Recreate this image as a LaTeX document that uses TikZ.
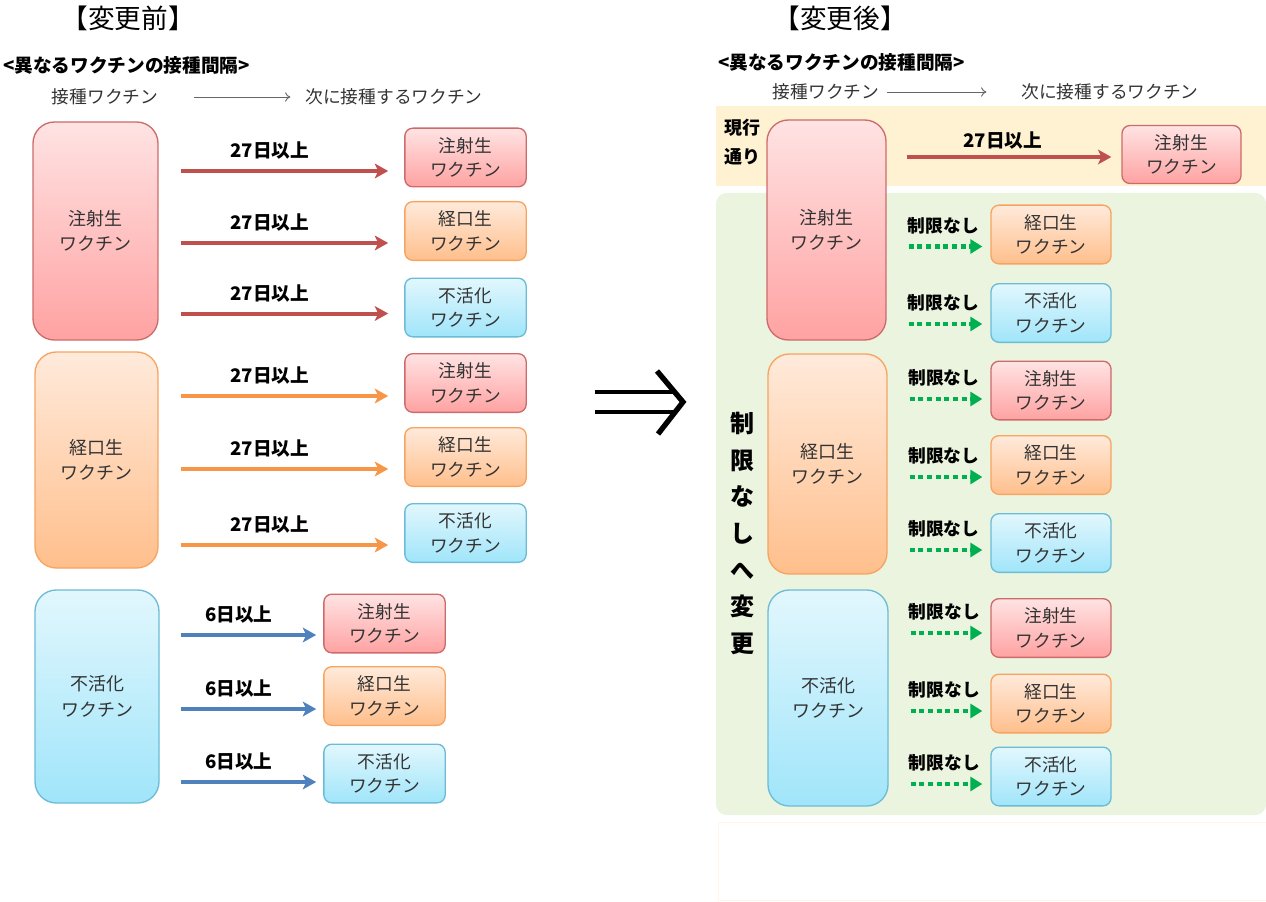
\documentclass[tikz,border=0pt]{standalone}
\usepackage{fontspec}
\setmainfont{Noto Sans CJK JP}
\usetikzlibrary{arrows.meta, calc, positioning}

\definecolor{injtop}{HTML}{FFE3E3}
\definecolor{injbot}{HTML}{FFA2A2}
\definecolor{injedge}{HTML}{CD6B6B}
\definecolor{injarrow}{HTML}{C0504D}
\definecolor{oraltop}{HTML}{FFEADB}
\definecolor{oralbot}{HTML}{FFBF8C}
\definecolor{oraledge}{HTML}{F7A461}
\definecolor{oralarrow}{HTML}{F79646}
\definecolor{inacttop}{HTML}{E2F7FD}
\definecolor{inactbot}{HTML}{A0E5FA}
\definecolor{inactedge}{HTML}{6BBCD6}
\definecolor{inactarrow}{HTML}{4F81BD}
\definecolor{keepband}{HTML}{FEF2D2}
\definecolor{freeband}{HTML}{EAF4DE}
\definecolor{freearrow}{HTML}{00B050}
\definecolor{labelgray}{HTML}{333333}

\tikzset{
  bigbox/.style={rounded corners=16pt, line width=1pt, draw=#1edge, top color=#1top, bottom color=#1bot,
    align=center, text=labelgray, font=\fontsize{13.5}{19}\selectfont, inner sep=0pt},
  smallbox/.style={rounded corners=6pt, line width=1pt, draw=#1edge, top color=#1top, bottom color=#1bot,
    align=center, text=labelgray, font=\fontsize{13.3}{18.5}\selectfont, minimum width=91pt, minimum height=44pt, inner sep=0pt},
  dayarrow/.style={line width=3pt, draw=#1arrow, -{Stealth[length=10pt, width=11pt, inset=2.5pt]}},
  freearr/.style={line width=3.7pt, draw=freearrow, dash pattern=on 3.7pt off 2.8pt, -{Triangle[length=9pt, width=10.5pt]}},
  daylbl/.style={font=\bfseries\fontsize{14}{16}\selectfont, inner sep=0pt},
  freelbl/.style={font=\bfseries\fontsize{13.3}{16}\selectfont, inner sep=0pt},
  headtxt/.style={font=\fontsize{13.3}{15}\selectfont, text=labelgray, inner sep=0pt},
  headarrow/.style={draw=black!60, line width=0.7pt, -{To[length=4pt, width=7pt]}},
  ttl/.style={font=\fontsize{20}{22}\selectfont},
}

\begin{document}
\begin{tikzpicture}[x=0.75pt, y=-0.75pt]
\useasboundingbox (0,0) rectangle (1266,902);

% bands behind the new rules
\fill[keepband] (716,106) rectangle (1266,186);
\fill[freeband, rounded corners=8pt] (716,193) rectangle (1266,815);
\draw[orange!8, line width=0.6pt] (718,822) rectangle (1266,900);

% before
\node[ttl] (ttlbefore) at (128,18) {【変更前】};
\node[anchor=west, font=\bfseries\fontsize{14}{16}\selectfont, inner sep=0pt] (hdbefore) at (3,65) {<異なるワクチンの接種間隔>};
\node[headtxt] (frombefore) at (105,97) {接種ワクチン};
\node[headtxt] (tobefore) at (394,97) {次に接種するワクチン};
\draw[headarrow, shorten <=27pt, shorten >=11pt] (frombefore) -- (tobefore);

\node[bigbox=inj, minimum width=93.75pt, minimum height=163.5pt] (lb1) at (95.5,231) {注射生\\ワクチン};
\node[bigbox=oral, minimum width=92.25pt, minimum height=162pt] (lb2) at (96.5,460) {経口生\\ワクチン};
\node[bigbox=inact, minimum width=93pt, minimum height=159.75pt] (lb3) at (97,696.5) {不活化\\ワクチン};

\foreach \n/\y/\kind/\txt/\d/\src/\col in {1/157.5/inj/注射生/13.5/lb1/inj, 2/231/oral/経口生/12/lb1/inj,
    3/307.5/inact/不活化/6/lb1/inj, 4/383/inj/注射生/13/lb2/oral, 5/457/oral/経口生/12/lb2/oral,
    6/533/inact/不活化/12/lb2/oral}{
  \node[smallbox=\kind] (ls\n) at (465.5,\y) {\txt\\ワクチン};
  \draw[dayarrow=\col] ($(\src.east |- ls\n.center)+(22,\d)$) -- ($(ls\n.west)+(-16,\d)$)
    node[daylbl, pos=.43, yshift=15pt] {27日以上};
}
\foreach \n/\y/\kind/\txt/\d in {7/623.5/inj/注射生/11.5, 8/696/oral/経口生/13, 9/773.5/inact/不活化/8.5}{
  \node[smallbox=\kind] (ls\n) at (384.5,\y) {\txt\\ワクチン};
  \draw[dayarrow=inact] ($(lb3.east |- ls\n.center)+(21,\d)$) -- ($(ls\n.west)+(-7,\d)$)
    node[daylbl, pos=.43, yshift=15.5pt] {6日以上};
}

% change mark
\draw[line width=3.6pt] (595,392) -- (674,392) (595,412) -- (674,412);
\draw[line width=4pt, miter limit=10] (657,371) -- (683,402) -- (658,434);

% after
\node[ttl] (ttlafter) at (840,18) {【変更後】};
\node[anchor=west, font=\bfseries\fontsize{14}{16}\selectfont, inner sep=0pt] (hdafter) at (718,62) {<異なるワクチンの接種間隔>};
\node[headtxt] (fromafter) at (826,92) {接種ワクチン};
\node[headtxt] (toafter) at (1110,92) {次に接種するワクチン};
\draw[headarrow, shorten <=5.5pt, shorten >=26pt] (fromafter) -- (toafter);

\node[font=\bfseries\fontsize{13.5}{21.75}\selectfont, align=center, inner sep=0pt] (keepnote) at (742,142.5) {現行\\通り};
\node[font=\bfseries\fontsize{18}{27.4}\selectfont, align=center, inner sep=0pt] (freenote) at (742,533.5) {制\\限\\な\\し\\へ\\変\\更};

\node[bigbox=inj, minimum width=89.25pt, minimum height=165pt] (rb1) at (826.5,230) {注射生\\ワクチン};
\node[bigbox=oral, minimum width=89.25pt, minimum height=165pt] (rb2) at (827.5,464) {経口生\\ワクチン};
\node[bigbox=inact, minimum width=90pt, minimum height=162pt] (rb3) at (828,698) {不活化\\ワクチン};

\node[smallbox=inj, minimum width=89.25pt, minimum height=43.5pt] (rs0) at (1181.5,154.5) {注射生\\ワクチン};
\draw[dayarrow=inj] ($(rb1.east |- rs0.center)+(20,2.5)$) -- ($(rs0.west)+(-10,2.5)$)
  node[daylbl, pos=.47, yshift=12pt] {27日以上};

\foreach \n/\y/\kind/\txt/\d/\src in {1/234.5/oral/経口生/12/rb1, 2/313/inact/不活化/11/rb1,
    3/390.5/inj/注射生/8.5/rb2, 4/465/oral/経口生/12/rb2, 5/543/inact/不活化/7/rb2,
    6/628/inj/注射生/5/rb3, 7/703.5/oral/経口生/7.5/rb3, 8/776.5/inact/不活化/7.5/rb3}{
  \node[smallbox=\kind, minimum width=90pt] (rs\n) at (1051,\y) {\txt\\ワクチン};
  \draw[freearr] ($(\src.east |- rs\n.center)+(22,\d)$) -- ($(rs\n.west)+(-8,\d)$)
    node[freelbl, pos=.47, yshift=15.75pt] {制限なし};
}
\end{tikzpicture}
\end{document}
